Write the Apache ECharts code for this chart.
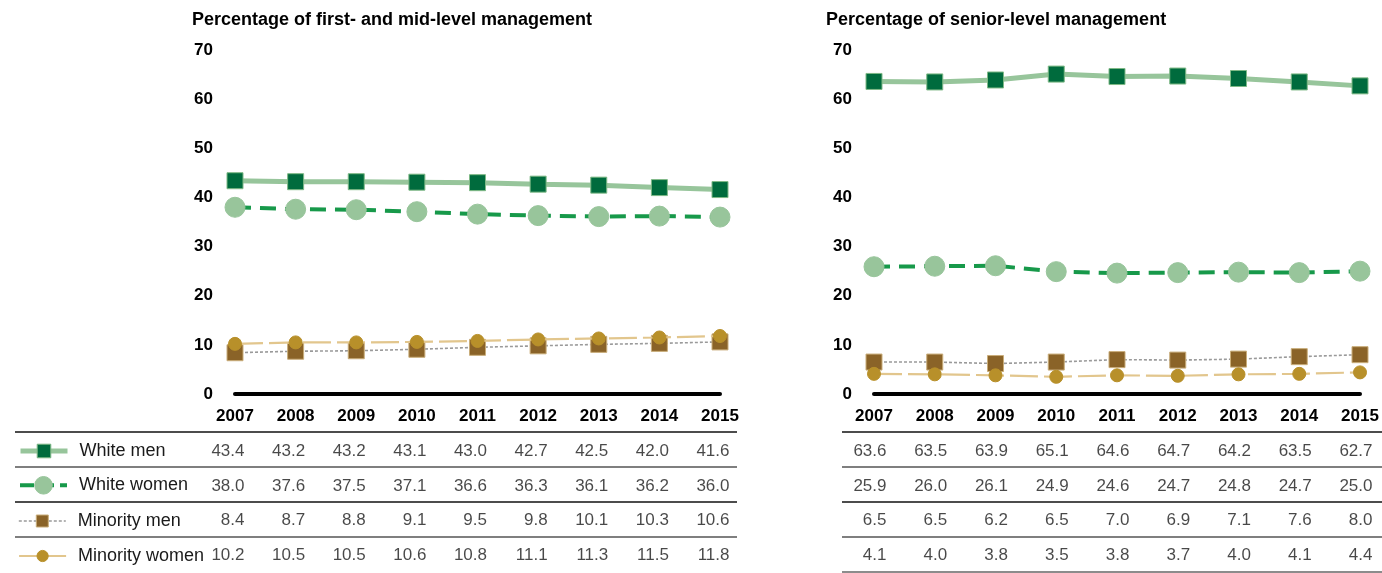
<!DOCTYPE html>
<html>
<head>
<meta charset="utf-8">
<script src="https://cdn.jsdelivr.net/npm/echarts@6/dist/echarts.min.js"></script>
<style>
html,body{margin:0;padding:0;background:#fff;}
#chart{width:1382px;height:573px;}
</style>
</head>
<body>
<div id="chart"></div>
<script>
// ---- data ----
const years = ['2007','2008','2009','2010','2011','2012','2013','2014','2015'];
const groups = ['White men','White women','Minority men','Minority women'];
const panelTitles = ['Percentage of first- and mid-level management','Percentage of senior-level management'];
const yTicks = [0, 10, 20, 30, 40, 50, 60, 70];

const midWhiteMen      = [43.4, 43.2, 43.2, 43.1, 43.0, 42.7, 42.5, 42.0, 41.6];
const midWhiteWomen    = [38.0, 37.6, 37.5, 37.1, 36.6, 36.3, 36.1, 36.2, 36.0];
const midMinorityMen   = [8.4, 8.7, 8.8, 9.1, 9.5, 9.8, 10.1, 10.3, 10.6];
const midMinorityWomen = [10.2, 10.5, 10.5, 10.6, 10.8, 11.1, 11.3, 11.5, 11.8];

const srWhiteMen      = [63.6, 63.5, 63.9, 65.1, 64.6, 64.7, 64.2, 63.5, 62.7];
const srWhiteWomen    = [25.9, 26.0, 26.1, 24.9, 24.6, 24.7, 24.8, 24.7, 25.0];
const srMinorityMen   = [6.5, 6.5, 6.2, 6.5, 7.0, 6.9, 7.1, 7.6, 8.0];
const srMinorityWomen = [4.1, 4.0, 3.8, 3.5, 3.8, 3.7, 4.0, 4.1, 4.4];

const panels = [
  [midWhiteMen, midWhiteWomen, midMinorityMen, midMinorityWomen],
  [srWhiteMen, srWhiteWomen, srMinorityMen, srMinorityWomen]
];

// ---- styles ----
const FONT = '"Liberation Sans", Arial, sans-serif';
const styles = [
  { symbol: 'rect', size: 16, color: '#006b3d', border: '#7fb986', line: { color: '#97c59b', width: 5, type: 'solid' }, legendLine: 'solid' },
  { symbol: 'circle', size: 20, color: '#98c59b', border: '#98c59b', line: { color: '#17994a', width: 4, type: [16, 9] }, legendLine: [14, 6] },
  { symbol: 'rect', size: 16, color: '#8a6328', border: '#c9ad7a', line: { color: '#9a9a9a', width: 1.6, type: [3, 2] }, legendLine: [3, 2] },
  { symbol: 'circle', size: 13, color: '#b8902a', border: '#b8902a', line: { color: '#e2c68d', width: 2.2, type: [28, 6] }, legendLine: 'solid' }
];

const chartGrids = [
  { left: 235, width: 485, top: 50, height: 344 },
  { left: 874, width: 486, top: 50, height: 344 }
];
const tableGrids = [
  { left: 235, width: 485, top: 435, height: 140 },
  { left: 874, width: 486, top: 435, height: 140 }
];
const lineGrids = [
  { left: 15, width: 722, top: 432, height: 140 },
  { left: 842, width: 540, top: 432, height: 140 }
];
const labelOffsets = [10, 13];

const chart = echarts.init(document.getElementById('chart'), null, { renderer: 'canvas' });

const grid = [...chartGrids, ...tableGrids, ...lineGrids];

const xAxis = [];
const yAxis = [];
for (let p = 0; p < 2; p++) {
  xAxis.push({
    type: 'category', gridIndex: p, data: years, boundaryGap: false,
    axisLine: { show: true, lineStyle: { color: '#000', width: 4 } },
    axisTick: { show: false },
    axisLabel: { color: '#000', fontSize: 17, fontWeight: 'bold', fontFamily: FONT, margin: 14, interval: 0 },
    splitLine: { show: false }
  });
  yAxis.push({
    type: 'value', gridIndex: p, min: yTicks[0], max: yTicks[yTicks.length - 1], interval: 10,
    axisLine: { show: false }, axisTick: { show: false }, splitLine: { show: false },
    axisLabel: { color: '#000', fontSize: 17, fontWeight: 'bold', fontFamily: FONT, margin: 22 }
  });
}
for (let p = 0; p < 2; p++) {
  xAxis.push({ type: 'category', gridIndex: 2 + p, data: years, boundaryGap: false, show: false });
  yAxis.push({ type: 'category', gridIndex: 2 + p, data: groups, inverse: true, show: false });
}
for (let p = 0; p < 2; p++) {
  xAxis.push({ type: 'value', gridIndex: 4 + p, min: 0, max: 1, show: false });
  yAxis.push({
    type: 'category', gridIndex: 4 + p, data: groups, inverse: true, boundaryGap: true,
    axisLine: { show: false }, axisTick: { show: false }, axisLabel: { show: false },
    splitLine: {
      show: true, interval: 0,
      lineStyle: { width: 1.5, color: p === 0 ? ['#111', '#555', '#111', '#555', 'rgba(0,0,0,0)'] : ['#111', '#555', '#111', '#555', '#666'] }
    }
  });
}

const series = [];
for (let p = 0; p < 2; p++) {
  panels[p].forEach((vals, g) => {
    const s = styles[g];
    series.push({
      name: groups[g], type: 'line', xAxisIndex: p, yAxisIndex: p,
      data: vals, symbol: s.symbol, symbolSize: s.size, showSymbol: true,
      lineStyle: { color: s.line.color, width: s.line.width, type: s.line.type },
      itemStyle: { color: s.color, borderColor: s.border, borderWidth: 1 },
      z: 2 + g, silent: true, animation: false
    });
  });
}
for (let p = 0; p < 2; p++) {
  const cells = [];
  panels[p].forEach((vals, g) => vals.forEach((v, i) => cells.push([i, g, v])));
  series.push({
    name: 'table' + p, type: 'scatter', xAxisIndex: 2 + p, yAxisIndex: 2 + p,
    data: cells, symbolSize: 1, itemStyle: { color: 'rgba(0,0,0,0)' },
    silent: true, animation: false,
    label: {
      show: true, position: [labelOffsets[p], 0], align: 'right', verticalAlign: 'middle',
      color: '#1a1a1a', fontSize: 17, fontFamily: FONT,
      formatter: (pr) => pr.value[2].toFixed(1)
    }
  });
}

const rowCenters = [452, 487, 522, 557];
const iconHeights = [17, 22, 15, 14];
const legend = groups.map((g, i) => ({
  data: [g], left: 18, top: rowCenters[i] - Math.max(iconHeights[i], 20) / 2,
  itemWidth: 47, itemHeight: iconHeights[i], selectedMode: false, padding: 0,
  lineStyle: { color: styles[i].line.color, width: styles[i].line.width, type: styles[i].legendLine },
  itemStyle: { color: styles[i].color, borderColor: styles[i].border, borderWidth: 1 },
  textStyle: { color: '#1a1a1a', fontSize: 18, fontFamily: FONT, padding: [0, 0, 0, 7] }
}));

const title = panelTitles.map((t, i) => ({
  text: t, left: i === 0 ? 192 : 826, top: 11, padding: 0,
  textStyle: { color: '#000', fontSize: 18, fontWeight: 'bold', fontFamily: FONT }
}));

chart.setOption({
  animation: false,
  backgroundColor: '#fff',
  title, legend, grid, xAxis, yAxis, series
});
</script>
</body>
</html>
